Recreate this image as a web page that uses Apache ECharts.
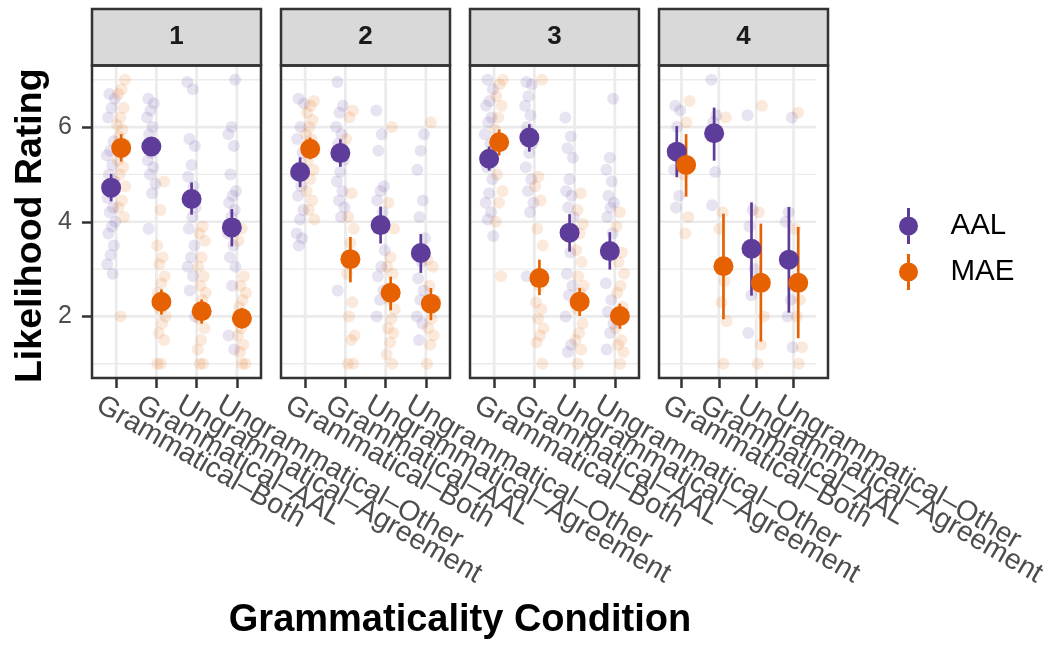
<!DOCTYPE html>
<html><head><meta charset="utf-8">
<script src="https://cdn.jsdelivr.net/npm/echarts@6/dist/echarts.min.js"></script>
<style>html,body{margin:0;padding:0;background:#fff}#c{width:1050px;height:645px}</style>
</head><body><div id="c"></div>
<script>
// ---------- data ----------
const categories = ['Grammatical–Both', 'Grammatical–AAL', 'Ungrammatical–Agreement', 'Ungrammatical–Other'];
const categoryPositions = [1, 2, 3, 4];
const panelLabels = ['1', '2', '3', '4'];
const groupNames = ['AAL', 'MAE'];
const groupColors = ['#5E3C99', '#E66101'];
const yMajorTicks = [2, 4, 6];
const yMinorTicks = [1, 3, 5, 7];

const aalMean = [[4.72, 5.59, 4.48, 3.88], [5.05, 5.45, 3.93, 3.34], [5.33, 5.78, 3.77, 3.38], [5.48, 5.87, 3.43, 3.20]];
const aalLow  = [[4.43, 5.40, 4.15, 3.48], [4.73, 5.16, 3.54, 2.92], [5.08, 5.48, 3.37, 2.99], [4.94, 5.29, 2.44, 2.08]];
const aalHigh = [[5.01, 5.78, 4.83, 4.27], [5.36, 5.74, 4.32, 3.74], [5.59, 6.06, 4.16, 3.78], [6.02, 6.41, 4.41, 4.31]];
const maeMean = [[5.56, 2.31, 2.11, 1.96], [5.54, 3.21, 2.50, 2.27], [5.68, 2.81, 2.31, 2.01], [5.20, 3.06, 2.71, 2.71]];
const maeLow  = [[5.27, 2.04, 1.85, 1.74], [5.32, 2.72, 2.13, 1.92], [5.40, 2.45, 2.01, 1.74], [4.53, 1.94, 1.47, 1.54]];
const maeHigh = [[5.85, 2.57, 2.36, 2.18], [5.78, 3.68, 2.84, 2.60], [5.95, 3.20, 2.60, 2.27], [5.85, 4.17, 3.96, 3.89]];

const aalRaw = [
  [
    [6.7, 6.6, 6.4, 6.2, 5.7, 5.5, 5.4, 5.2, 5.0, 4.85, 4.6, 4.5, 4.3, 4.2, 4.0, 3.9, 3.75, 3.5, 3.3, 3.1, 2.9],
    [6.6, 6.5, 6.35, 6.2, 6.0, 5.85, 5.65, 5.45, 5.3, 5.15, 5.0, 4.8, 4.6, 3.85],
    [6.95, 6.8, 5.75, 5.6, 5.2, 4.95, 4.75, 4.55, 4.3, 4.1, 3.85, 3.5, 3.25, 3.05, 2.85, 2.55, 2.0],
    [7.0, 6.0, 5.85, 5.6, 5.0, 4.65, 4.55, 4.4, 4.25, 4.1, 3.75, 3.5, 3.25, 3.05, 2.65, 1.6, 1.3]
  ],
  [
    [6.6, 6.5, 6.0, 5.75, 5.45, 5.15, 5.0, 4.75, 4.55, 4.25, 4.05, 3.75, 3.65, 3.5],
    [6.95, 6.45, 6.3, 6.0, 5.85, 5.65, 5.3, 5.05, 4.85, 4.65, 4.45, 4.3, 4.1, 2.55],
    [6.35, 5.85, 5.5, 4.75, 4.65, 4.45, 4.2, 3.85, 3.4, 3.05, 2.85, 2.55, 2.35, 2.0],
    [5.85, 5.5, 5.1, 4.45, 4.1, 3.65, 3.15, 2.8, 2.55, 2.35, 2.0, 1.85, 1.5]
  ],
  [
    [7.0, 6.8, 6.55, 6.45, 6.2, 6.1, 5.85, 5.65, 5.15, 4.9, 4.6, 4.4, 4.2, 4.05, 3.7],
    [6.95, 6.9, 6.65, 6.45, 6.25, 6.0, 5.65, 5.45, 5.15, 4.9, 4.65, 4.4, 4.2, 2.85],
    [6.2, 5.8, 5.55, 5.35, 4.9, 4.65, 4.55, 4.3, 4.1, 3.35, 2.9, 2.65, 2.45, 2.0, 1.4, 1.25],
    [6.6, 5.35, 5.1, 4.85, 4.55, 4.4, 4.3, 4.1, 3.75, 3.35, 2.7, 2.35, 2.1, 1.85, 1.65, 1.3]
  ],
  [
    [6.45, 6.35, 6.0, 5.1, 4.55, 4.3],
    [7.0, 6.25, 6.1, 5.9, 5.05, 4.35],
    [6.25, 4.25, 3.9, 3.0, 2.45, 1.65],
    [6.2, 4.2, 4.0, 2.35, 2.0, 1.35]
  ]
];
const maeRaw = [
  [
    [7.0, 6.8, 6.7, 6.4, 6.2, 6.05, 5.95, 5.8, 5.65, 5.45, 5.3, 5.15, 5.0, 4.75, 4.45, 4.3, 4.1, 2.0],
    [4.85, 4.25, 3.5, 3.25, 3.1, 2.85, 2.7, 2.5, 2.35, 2.15, 2.0, 1.85, 1.65, 1.5, 1.0, 1.0],
    [3.9, 3.75, 3.6, 3.25, 3.05, 2.85, 2.65, 2.5, 2.35, 1.95, 1.75, 1.5, 1.3, 1.0, 1.0],
    [3.85, 3.6, 2.85, 2.65, 2.5, 2.35, 2.2, 1.95, 1.75, 1.6, 1.4, 1.25, 1.0, 1.0]
  ],
  [
    [6.55, 6.45, 6.3, 6.15, 6.0, 5.85, 5.75, 5.3, 5.1, 4.9, 4.65, 4.45, 4.25, 4.05],
    [6.35, 6.2, 5.75, 4.6, 4.1, 3.85, 3.55, 2.9, 2.3, 2.0, 1.6, 1.5, 1.0, 1.0],
    [6.0, 4.4, 3.85, 3.25, 3.05, 2.9, 2.35, 2.15, 1.95, 1.75, 1.65, 1.45, 1.2, 1.0],
    [6.1, 3.2, 3.05, 2.65, 2.35, 1.95, 1.75, 1.6, 1.4, 1.0]
  ],
  [
    [7.0, 6.9, 6.65, 6.45, 6.2, 5.95, 5.6, 5.0, 4.65, 4.4, 4.0, 2.85],
    [7.0, 4.95, 4.75, 4.45, 3.85, 3.5, 2.65, 2.3, 2.15, 1.95, 1.75, 1.6, 1.45, 1.0],
    [4.6, 4.25, 3.95, 3.75, 3.4, 3.15, 2.85, 2.65, 2.5, 2.15, 1.85, 1.65, 1.5, 1.3, 1.0],
    [4.2, 3.9, 3.35, 3.15, 2.9, 2.65, 2.5, 2.2, 2.0, 1.75, 1.5, 1.4, 1.25, 1.0]
  ],
  [
    [6.55, 6.1, 5.0, 4.1, 3.75],
    [6.2, 4.2, 3.85, 2.75, 2.3, 1.9, 1.0],
    [6.45, 4.2, 2.0, 1.4, 1.0],
    [6.3, 3.85, 2.35, 2.0, 1.35, 1.0]
  ]
];

// ---------- layout / style ----------
const FONT = '"Liberation Sans", Arial, Helvetica, sans-serif';
const X_MIN = 0.4, X_MAX = 4.6, Y_MIN = 0.7, Y_MAX = 7.3;
const panelLeft = [92, 281, 470, 659];
const panelTop = 65.5, panelW = 169, panelH = 312.5;
const stripTop = 9;
const DODGE = 0.125, JITTER = 0.11;
const LABEL_SHIFT = 0.44; // rotated labels start a little left of their tick
function jitterOffset(i) { const f = (i * 0.6180339887 + 0.31) % 1; return (f - 0.5) * 2 * JITTER; }

const means = [aalMean, maeMean], lows = [aalLow, maeLow], highs = [aalHigh, maeHigh], raws = [aalRaw, maeRaw];

const grids = [], xAxes = [], yAxes = [], series = [], graphics = [];

function gridRender(params, api) {
  const children = [];
  const hline = (v, w) => { const a = api.coord([X_MIN, v]), b = api.coord([X_MAX, v]);
    children.push({ type: 'line', shape: { x1: a[0], y1: a[1], x2: b[0], y2: b[1] }, style: { stroke: '#EBEBEB', lineWidth: w } }); };
  yMinorTicks.forEach(v => hline(v, 1.4));
  yMajorTicks.forEach(v => hline(v, 2.7));
  categoryPositions.forEach(x => { const a = api.coord([x, Y_MIN]), b = api.coord([x, Y_MAX]);
    children.push({ type: 'line', shape: { x1: a[0], y1: a[1], x2: b[0], y2: b[1] }, style: { stroke: '#EBEBEB', lineWidth: 2.7 } }); });
  return { type: 'group', children };
}
function barRender(params, api) {
  const x = api.value(0), a = api.coord([x, api.value(1)]), b = api.coord([x, api.value(2)]);
  return { type: 'line', shape: { x1: a[0], y1: a[1], x2: b[0], y2: b[1] }, style: { stroke: api.visual('color'), lineWidth: 2.7 } };
}

function xLabelAxis(p, values, showTicks) {
  return {
    type: 'value', gridIndex: p, position: 'bottom', offset: 0, min: X_MIN, max: X_MAX,
    axisLine: { show: false }, splitLine: { show: false },
    axisTick: { show: showTicks, customValues: categoryPositions, length: 10, lineStyle: { color: '#333333', width: 2.5 } },
    axisLabel: { customValues: values.map(v => v - LABEL_SHIFT),
      formatter: v => categories[Math.round(v + LABEL_SHIFT) - 1],
      rotate: -30, align: 'left', verticalAlign: 'middle', lineHeight: 12, margin: 25,
      hideOverlap: false, showMinLabel: true, showMaxLabel: true,
      fontSize: 28.5, color: '#4D4D4D', fontFamily: FONT }
  };
}

panelLabels.forEach((lab, p) => {
  grids.push({ left: panelLeft[p], top: panelTop, width: panelW, height: panelH, show: false });
  // two overlaid bottom axes so that the slanted labels of neighbouring categories are not culled
  xAxes.push(xLabelAxis(p, categoryPositions.filter((_, i) => i % 2 === 0), true));
  xAxes.push(xLabelAxis(p, categoryPositions.filter((_, i) => i % 2 === 1), false));
  const xi = 2 * p;
  const y = {
    type: 'value', gridIndex: p, min: Y_MIN, max: Y_MAX,
    axisLine: { show: false }, splitLine: { show: false },
    axisTick: { show: p === 0, customValues: yMajorTicks, length: 10, lineStyle: { color: '#333333', width: 2.5 } },
    axisLabel: { show: p === 0, customValues: yMajorTicks, margin: 20, fontSize: 25, color: '#4D4D4D', fontFamily: FONT }
  };
  if (p === 0) Object.assign(y, { name: 'Likelihood Rating', nameLocation: 'middle', nameRotate: 90, nameGap: 42,
    nameTextStyle: { fontSize: 37.5, fontWeight: 'bold', color: '#000', fontFamily: FONT, padding: [0, 8, 0, 0] } });
  yAxes.push(y);

  series.push({ type: 'custom', xAxisIndex: xi, yAxisIndex: p, renderItem: gridRender, data: [[1, 1]], silent: true, z: 1 });

  groupNames.forEach((g, gi) => {
    const off = gi === 0 ? -DODGE : DODGE;
    const rawData = [];
    raws[gi][p].forEach((vals, c) => vals.forEach((v, i) => rawData.push([categoryPositions[c] + off + jitterOffset(i + c * 3 + gi), v])));
    series.push({ name: g, type: 'scatter', xAxisIndex: xi, yAxisIndex: p, data: rawData, symbolSize: 12,
      itemStyle: { color: groupColors[gi], opacity: 0.14 }, silent: true, z: 2 });
  });
  groupNames.forEach((g, gi) => {
    const off = gi === 0 ? -DODGE : DODGE;
    series.push({ name: g, type: 'custom', xAxisIndex: xi, yAxisIndex: p, renderItem: barRender,
      encode: { x: 0, y: [1, 2] },
      data: categoryPositions.map((x, c) => [x + off, lows[gi][p][c], highs[gi][p][c]]),
      itemStyle: { color: groupColors[gi] }, silent: true, z: 3 });
  });
  groupNames.forEach((g, gi) => {
    const off = gi === 0 ? -DODGE : DODGE;
    series.push({ name: g, type: 'scatter', xAxisIndex: xi, yAxisIndex: p,
      data: categoryPositions.map((x, c) => [x + off, means[gi][p][c]]), symbolSize: 20,
      itemStyle: { color: groupColors[gi], opacity: 1 }, silent: true, z: 4 });
  });

  graphics.push({ type: 'rect', z: 100, shape: { x: panelLeft[p], y: stripTop, width: panelW, height: panelTop - stripTop },
    style: { fill: '#D9D9D9', stroke: '#333333', lineWidth: 2.5 } });
  graphics.push({ type: 'text', z: 101, x: panelLeft[p] + panelW / 2, y: (stripTop + panelTop) / 2,
    style: { text: lab, align: 'center', verticalAlign: 'middle', font: 'bold 26px ' + FONT, fill: '#1A1A1A' } });
  graphics.push({ type: 'rect', z: 100, shape: { x: panelLeft[p], y: panelTop, width: panelW, height: panelH },
    style: { fill: 'none', stroke: '#333333', lineWidth: 2.5 } });
});

graphics.push({ type: 'text', z: 101, x: (panelLeft[0] + panelLeft[3] + panelW) / 2, y: 621,
  style: { text: 'Grammaticality Condition', align: 'center', verticalAlign: 'middle', font: 'bold 38px ' + FONT, fill: '#000' } });

const legendIcon = 'path://M8,0L11,0L11,36L8,36Z M0,18A9.5,9.5,0,1,1,19,18A9.5,9.5,0,1,1,0,18Z';

const chart = echarts.init(document.getElementById('c'), null, { renderer: 'canvas' });
chart.setOption({
  animation: false,
  backgroundColor: '#FFFFFF',
  grid: grids, xAxis: xAxes, yAxis: yAxes, series,
  legend: {
    orient: 'vertical', left: 899, top: 208, padding: 0, itemWidth: 74, itemHeight: 36, itemGap: 10,
    textStyle: { fontSize: 29.5, color: '#000', fontFamily: FONT },
    data: groupNames.map((g, gi) => ({ name: g, icon: legendIcon, itemStyle: { color: groupColors[gi], opacity: 1 } }))
  },
  graphic: { elements: graphics }
});
</script></body></html>
